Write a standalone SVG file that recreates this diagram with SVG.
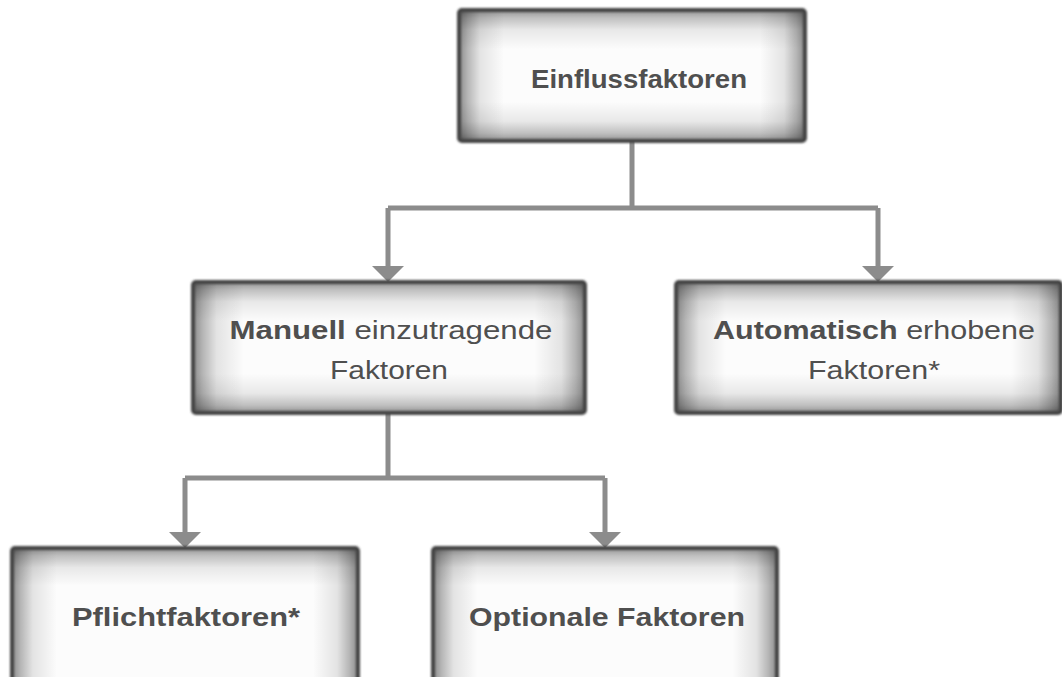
<svg xmlns="http://www.w3.org/2000/svg" width="1062" height="677" viewBox="0 0 1062 677">
<defs>
<linearGradient id="gh" x1="0" y1="0" x2="1" y2="0">
<stop offset="0" stop-color="#000" stop-opacity="0.45"/>
<stop offset="0.025" stop-color="#000" stop-opacity="0.28"/>
<stop offset="0.06" stop-color="#000" stop-opacity="0.1"/>
<stop offset="0.13" stop-color="#000" stop-opacity="0"/>
<stop offset="0.87" stop-color="#000" stop-opacity="0"/>
<stop offset="0.94" stop-color="#000" stop-opacity="0.1"/>
<stop offset="0.975" stop-color="#000" stop-opacity="0.28"/>
<stop offset="1" stop-color="#000" stop-opacity="0.45"/>
</linearGradient>
<linearGradient id="gv" x1="0" y1="0" x2="0" y2="1">
<stop offset="0" stop-color="#000" stop-opacity="0.42"/>
<stop offset="0.06" stop-color="#000" stop-opacity="0.24"/>
<stop offset="0.15" stop-color="#000" stop-opacity="0.08"/>
<stop offset="0.3" stop-color="#000" stop-opacity="0"/>
<stop offset="0.7" stop-color="#000" stop-opacity="0"/>
<stop offset="0.85" stop-color="#000" stop-opacity="0.08"/>
<stop offset="0.94" stop-color="#000" stop-opacity="0.24"/>
<stop offset="1" stop-color="#000" stop-opacity="0.42"/>
</linearGradient>
<linearGradient id="gv2" x1="0" y1="0" x2="0" y2="1">
<stop offset="0" stop-color="#000" stop-opacity="0.42"/>
<stop offset="0.055" stop-color="#000" stop-opacity="0.24"/>
<stop offset="0.14" stop-color="#000" stop-opacity="0.08"/>
<stop offset="0.27" stop-color="#000" stop-opacity="0"/>
<stop offset="1" stop-color="#000" stop-opacity="0"/>
</linearGradient>
<filter id="soft" x="-5%" y="-5%" width="110%" height="110%">
<feGaussianBlur stdDeviation="0.9"/>
</filter>
</defs>
<style>
.box{fill:#fcfcfc}
.gh{fill:url(#gh)}
.gv{fill:url(#gv)}
.gv2{fill:url(#gv2)}
.brd{fill:none;stroke:#454545;stroke-width:4;filter:url(#soft)}
.t{font-family:"Liberation Sans",Arial,sans-serif;font-size:26px;fill:#4f4f4f;text-anchor:middle}
.b{font-weight:bold}
.c{fill:none;stroke:#8c8c8c;stroke-width:5}
.ah{fill:#8c8c8c}
</style>
<rect width="1062" height="677" fill="#fff"/>
<g id="connectors">
<path class="c" d="M632 141 V208 M388 208 H878 M388 208 V268 M878 208 V268"/>
<polygon class="ah" points="372,266 404,266 388,282"/>
<polygon class="ah" points="862,266 894,266 878,282"/>
<path class="c" d="M388 413 V478 M185 478 H605 M185 478 V533 M605 478 V533"/>
<polygon class="ah" points="169,532 201,532 185,548"/>
<polygon class="ah" points="589,532 621,532 605,548"/>
</g>
<g id="n1">
<rect class="box" x="459" y="10" width="346" height="131" rx="3"/>
<rect class="gh" x="459" y="10" width="346" height="131" rx="3"/>
<rect class="gv" x="459" y="10" width="346" height="131" rx="3"/>
<rect class="brd" x="459" y="10" width="346" height="131" rx="3"/>
<text class="t b" x="639" y="88" textLength="216" lengthAdjust="spacingAndGlyphs">Einflussfaktoren</text>
</g>
<g id="n2">
<rect class="box" x="193" y="282" width="392" height="131" rx="3"/>
<rect class="gh" x="193" y="282" width="392" height="131" rx="3"/>
<rect class="gv" x="193" y="282" width="392" height="131" rx="3"/>
<rect class="brd" x="193" y="282" width="392" height="131" rx="3"/>
<text class="t" x="391" y="339" textLength="323" lengthAdjust="spacingAndGlyphs"><tspan class="b">Manuell</tspan> einzutragende</text>
<text class="t" x="389" y="379" textLength="118" lengthAdjust="spacingAndGlyphs">Faktoren</text>
</g>
<g id="n3">
<rect class="box" x="676" y="282" width="385" height="131" rx="3"/>
<rect class="gh" x="676" y="282" width="385" height="131" rx="3"/>
<rect class="gv" x="676" y="282" width="385" height="131" rx="3"/>
<rect class="brd" x="676" y="282" width="385" height="131" rx="3"/>
<text class="t" x="874" y="339" textLength="322" lengthAdjust="spacingAndGlyphs"><tspan class="b">Automatisch</tspan> erhobene</text>
<text class="t" x="874" y="379" textLength="132" lengthAdjust="spacingAndGlyphs">Faktoren*</text>
</g>
<g id="n4">
<rect class="box" x="12" y="548" width="346" height="140" rx="3"/>
<rect class="gh" x="12" y="548" width="346" height="140" rx="3"/>
<rect class="gv2" x="12" y="548" width="346" height="140" rx="3"/>
<rect class="brd" x="12" y="548" width="346" height="140" rx="3"/>
<text class="t b" x="186" y="626" textLength="228" lengthAdjust="spacingAndGlyphs">Pflichtfaktoren*</text>
</g>
<g id="n5">
<rect class="box" x="433" y="548" width="344" height="140" rx="3"/>
<rect class="gh" x="433" y="548" width="344" height="140" rx="3"/>
<rect class="gv2" x="433" y="548" width="344" height="140" rx="3"/>
<rect class="brd" x="433" y="548" width="344" height="140" rx="3"/>
<text class="t b" x="607" y="626" textLength="276" lengthAdjust="spacingAndGlyphs">Optionale Faktoren</text>
</g>
</svg>
